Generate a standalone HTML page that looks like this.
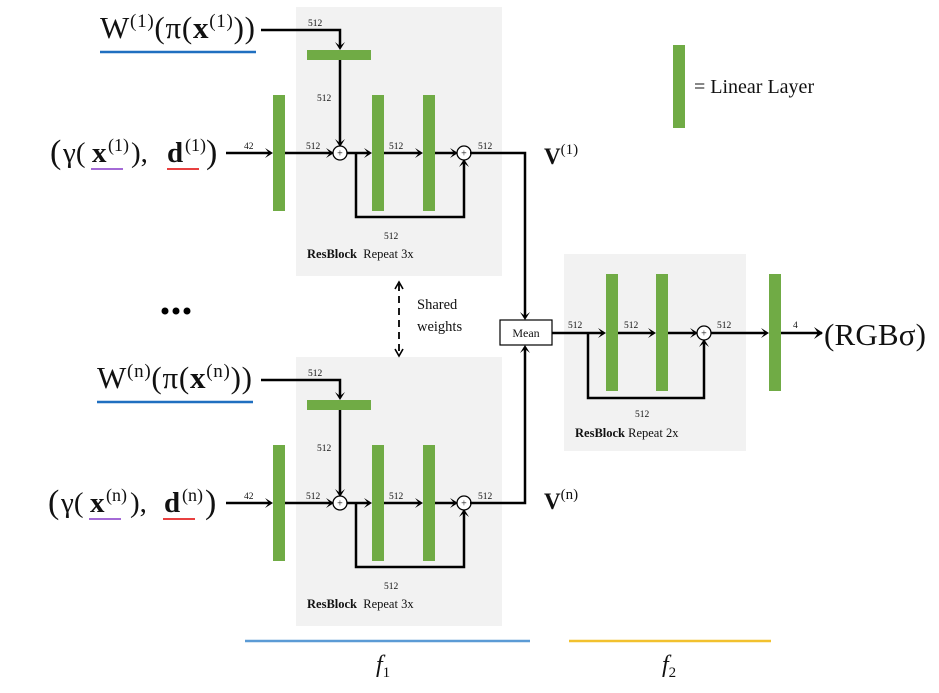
<!DOCTYPE html>
<html><head><meta charset="utf-8"><style>
body{margin:0;background:#fff;width:939px;height:693px;overflow:hidden}
svg{display:block}
text{font-family:"Liberation Serif","DejaVu Serif",serif;fill:#111}
.s{font-size:9.5px}
.l{fill:none;stroke:#000;stroke-width:2.5}
.g{fill:#70ab45}
</style></head><body>
<svg width="939" height="693" viewBox="0 0 939 693" xmlns="http://www.w3.org/2000/svg">
<g>
<rect x="296" y="7" width="206" height="269" fill="#f2f2f2"/>
<polyline class="l" points="261,30 340,30 340,48"/>
<polygon points="335,42 340,50 345,42 340,46" fill="#000"/>
<rect class="g" x="307" y="50" width="64" height="10"/>
<line class="l" x1="340" y1="60" x2="340" y2="145"/>
<polygon points="335,139 340,147 345,139 340,143" fill="#000"/>
<rect class="g" x="273" y="95" width="12" height="116"/>
<rect class="g" x="372" y="95" width="12" height="116"/>
<rect class="g" x="423" y="95" width="12" height="116"/>
<line class="l" x1="226" y1="153" x2="271" y2="153"/>
<polygon points="265,148 273,153 265,158 269,153" fill="#000"/>
<line class="l" x1="285" y1="153" x2="332" y2="153"/>
<polygon points="326,148 334,153 326,158 330,153" fill="#000"/>
<line class="l" x1="347" y1="153" x2="370" y2="153"/>
<polygon points="364,148 372,153 364,158 368,153" fill="#000"/>
<line class="l" x1="384" y1="153" x2="421" y2="153"/>
<polygon points="415,148 423,153 415,158 419,153" fill="#000"/>
<line class="l" x1="435" y1="153" x2="456" y2="153"/>
<polygon points="450,148 458,153 450,158 454,153" fill="#000"/>
<polyline class="l" points="356,153 356,217 464,217 464,162"/>
<polygon points="459,167 464,159 469,167 464,163" fill="#000"/>
<circle cx="340" cy="153" r="7" fill="#fff" stroke="#000" stroke-width="1.3"/>
<text x="340" y="156.5" font-size="10" text-anchor="middle">+</text>
<circle cx="464" cy="153" r="7" fill="#fff" stroke="#000" stroke-width="1.3"/>
<text x="464" y="156.5" font-size="10" text-anchor="middle">+</text>
<text class="s" x="308" y="26">512</text>
<text class="s" x="317" y="101">512</text>
<text class="s" x="244" y="149">42</text>
<text class="s" x="306" y="149">512</text>
<text class="s" x="389" y="149">512</text>
<text class="s" x="384" y="239">512</text>
<text x="307" y="258" font-size="12.5"><tspan font-weight="bold">ResBlock</tspan>&#160;&#160;Repeat 3x</text>
</g>
<g transform="translate(0,350)">
<rect x="296" y="7" width="206" height="269" fill="#f2f2f2"/>
<polyline class="l" points="261,30 340,30 340,48"/>
<polygon points="335,42 340,50 345,42 340,46" fill="#000"/>
<rect class="g" x="307" y="50" width="64" height="10"/>
<line class="l" x1="340" y1="60" x2="340" y2="145"/>
<polygon points="335,139 340,147 345,139 340,143" fill="#000"/>
<rect class="g" x="273" y="95" width="12" height="116"/>
<rect class="g" x="372" y="95" width="12" height="116"/>
<rect class="g" x="423" y="95" width="12" height="116"/>
<line class="l" x1="226" y1="153" x2="271" y2="153"/>
<polygon points="265,148 273,153 265,158 269,153" fill="#000"/>
<line class="l" x1="285" y1="153" x2="332" y2="153"/>
<polygon points="326,148 334,153 326,158 330,153" fill="#000"/>
<line class="l" x1="347" y1="153" x2="370" y2="153"/>
<polygon points="364,148 372,153 364,158 368,153" fill="#000"/>
<line class="l" x1="384" y1="153" x2="421" y2="153"/>
<polygon points="415,148 423,153 415,158 419,153" fill="#000"/>
<line class="l" x1="435" y1="153" x2="456" y2="153"/>
<polygon points="450,148 458,153 450,158 454,153" fill="#000"/>
<polyline class="l" points="356,153 356,217 464,217 464,162"/>
<polygon points="459,167 464,159 469,167 464,163" fill="#000"/>
<circle cx="340" cy="153" r="7" fill="#fff" stroke="#000" stroke-width="1.3"/>
<text x="340" y="156.5" font-size="10" text-anchor="middle">+</text>
<circle cx="464" cy="153" r="7" fill="#fff" stroke="#000" stroke-width="1.3"/>
<text x="464" y="156.5" font-size="10" text-anchor="middle">+</text>
<text class="s" x="308" y="26">512</text>
<text class="s" x="317" y="101">512</text>
<text class="s" x="244" y="149">42</text>
<text class="s" x="306" y="149">512</text>
<text class="s" x="389" y="149">512</text>
<text class="s" x="384" y="239">512</text>
<text x="307" y="258" font-size="12.5"><tspan font-weight="bold">ResBlock</tspan>&#160;&#160;Repeat 3x</text>
</g>
<!-- labels top -->
<text x="100" y="38" font-size="31" textLength="155" lengthAdjust="spacing">W<tspan font-size="19" dy="-11">(1)</tspan><tspan dy="11">(π(</tspan><tspan font-weight="bold">x</tspan><tspan font-size="19" dy="-11">(1)</tspan><tspan dy="11">))</tspan></text>
<line x1="100" y1="52" x2="256" y2="52" stroke="#1f6fc0" stroke-width="2.5"/>
<text x="50" y="163" font-size="34">(</text>
<text x="63" y="162" font-size="29">γ(</text>
<text x="92" y="162" font-size="29" font-weight="bold">x</text>
<text x="108" y="151" font-size="18">(1)</text>
<text x="131" y="162" font-size="29">),</text>
<text x="167" y="162" font-size="29" font-weight="bold">d</text>
<text x="185" y="151" font-size="18">(1)</text>
<text x="206" y="163" font-size="34">)</text>
<line x1="91" y1="169" x2="123" y2="169" stroke="#a46ad6" stroke-width="2"/>
<line x1="167" y1="169" x2="199" y2="169" stroke="#e84040" stroke-width="2"/>
<!-- labels bottom -->
<text x="97" y="388" font-size="31" textLength="155" lengthAdjust="spacing">W<tspan font-size="19" dy="-11">(n)</tspan><tspan dy="11">(π(</tspan><tspan font-weight="bold">x</tspan><tspan font-size="19" dy="-11">(n)</tspan><tspan dy="11">))</tspan></text>
<line x1="97" y1="402" x2="253" y2="402" stroke="#1f6fc0" stroke-width="2.5"/>
<text x="48" y="513" font-size="34">(</text>
<text x="61" y="512" font-size="29">γ(</text>
<text x="90" y="512" font-size="29" font-weight="bold">x</text>
<text x="106" y="501" font-size="18">(n)</text>
<text x="130" y="512" font-size="29">),</text>
<text x="164" y="512" font-size="29" font-weight="bold">d</text>
<text x="182" y="501" font-size="18">(n)</text>
<text x="205" y="513" font-size="34">)</text>
<line x1="89" y1="519" x2="121" y2="519" stroke="#a46ad6" stroke-width="2"/>
<line x1="163" y1="519" x2="195" y2="519" stroke="#e84040" stroke-width="2"/>
<polyline class="l" points="470,153 525,153 525,318"/>
<polygon points="520,312 525,320 530,312 525,316" fill="#000"/>
<polyline class="l" points="470,503 525,503 525,347"/>
<polygon points="520,353 525,345 530,353 525,349" fill="#000"/>
<text class="s" x="478" y="149">512</text>
<text class="s" x="478" y="499">512</text>
<text x="544" y="164" font-size="23"><tspan font-weight="bold">V</tspan><tspan font-size="15" dy="-10">(1)</tspan></text>
<text x="544" y="509" font-size="23"><tspan font-weight="bold">V</tspan><tspan font-size="15" dy="-10">(n)</tspan></text>
<circle cx="165" cy="311" r="3.5" fill="#000"/>
<circle cx="176" cy="311" r="3.5" fill="#000"/>
<circle cx="187" cy="311" r="3.5" fill="#000"/>
<line x1="399" y1="284" x2="399" y2="354" stroke="#000" stroke-width="1.8" stroke-dasharray="7,5"/>
<path d="M395,289 L399,282 L403,289 M395,349 L399,356 L403,349" fill="none" stroke="#000" stroke-width="1.6"/>
<text x="417" y="309" font-size="14.5">Shared</text>
<text x="417" y="331" font-size="14.5">weights</text>
<rect x="564" y="254" width="182" height="197" fill="#f2f2f2"/>
<rect x="500" y="320" width="52" height="25" fill="#fff" stroke="#000" stroke-width="1.2"/>
<text x="526" y="337" font-size="12" text-anchor="middle">Mean</text>
<rect class="g" x="606" y="274" width="12" height="117"/>
<rect class="g" x="656" y="274" width="12" height="117"/>
<rect class="g" x="769" y="274" width="12" height="117"/>
<line class="l" x1="552" y1="333" x2="604" y2="333"/>
<polygon points="598,328 606,333 598,338 602,333" fill="#000"/>
<line class="l" x1="618" y1="333" x2="654" y2="333"/>
<polygon points="648,328 656,333 648,338 652,333" fill="#000"/>
<line class="l" x1="668" y1="333" x2="696" y2="333"/>
<polygon points="690,328 698,333 690,338 694,333" fill="#000"/>
<line class="l" x1="711" y1="333" x2="767" y2="333"/>
<polygon points="761,328 769,333 761,338 765,333" fill="#000"/>
<line class="l" x1="781" y1="333" x2="822" y2="333"/>
<polygon points="814,327 823,333 814,339 818,333" fill="#000"/>
<polyline class="l" points="588,333 588,398 704,398 704,342"/>
<polygon points="699,347 704,339 709,347 704,343" fill="#000"/>
<circle cx="704" cy="333" r="7" fill="#fff" stroke="#000" stroke-width="1.3"/>
<text x="704" y="336.5" font-size="10" text-anchor="middle">+</text>
<text class="s" x="568" y="328">512</text>
<text class="s" x="624" y="328">512</text>
<text class="s" x="717" y="328">512</text>
<text class="s" x="793" y="328">4</text>
<text class="s" x="635" y="417">512</text>
<text x="575" y="437" font-size="12.5"><tspan font-weight="bold">ResBlock</tspan> Repeat 2x</text>
<text x="824" y="345" font-size="31" textLength="102" lengthAdjust="spacing">(RGBσ)</text>
<rect class="g" x="673" y="45" width="12" height="83"/>
<text x="694" y="93" font-size="20">= Linear Layer</text>
<line x1="245" y1="641" x2="530" y2="641" stroke="#5b9bd5" stroke-width="2.5"/>
<line x1="569" y1="641" x2="771" y2="641" stroke="#f2c12e" stroke-width="2.5"/>
<text x="376" y="672" font-size="24" font-style="italic">f<tspan font-size="15" dy="5" font-style="normal">1</tspan></text>
<text x="662" y="672" font-size="24" font-style="italic">f<tspan font-size="15" dy="5" font-style="normal">2</tspan></text>
</svg>
</body></html>
